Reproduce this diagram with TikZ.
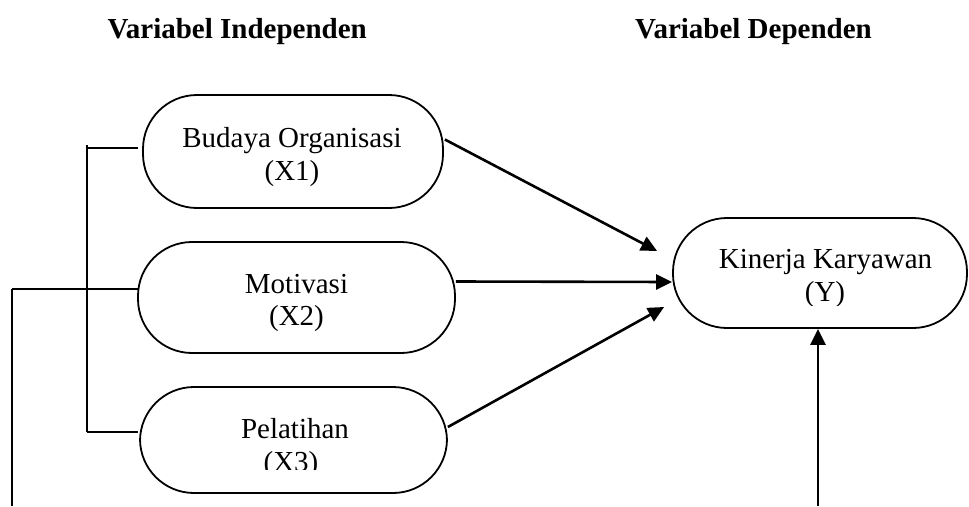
\documentclass[tikz,border=0pt]{standalone}
\usepackage{fontspec}
\setmainfont{Liberation Serif}
\usetikzlibrary{arrows.meta,calc}
\begin{document}
\begin{tikzpicture}[x=1pt,y=-1pt,
  varbox/.style={draw, line width=1.8pt, rounded corners=54pt, inner sep=0pt, minimum width=#1},
  lbl/.style={font=\fontsize{29}{33}\selectfont, anchor=base, inner sep=0pt},
  ttl/.style={font=\fontsize{29}{33}\selectfont\bfseries, anchor=base east, inner sep=0pt},
  brk/.style={line width=1.8pt},
  arr/.style={line width=2.6pt, -{Triangle[length=16pt,width=15pt]}}]
\useasboundingbox (0,0) rectangle (969,506);
% titles
\node[ttl] (ti) at (367,38) {Variabel Independen};
\node[ttl] (td) at (872,38) {Variabel Dependen};
% boxes
\node[varbox=300pt, minimum height=113pt] (x1) at (293,151.5) {};
\node[varbox=317pt, minimum height=111pt] (x2) at (296.5,297.5) {};
\node[varbox=307pt, minimum height=106pt] (x3) at (293.5,440) {};
\node[varbox=294pt, minimum height=110pt] (y) at (820,273) {};
% labels
\node[lbl] (x1a) at (292,147) {Budaya Organisasi};
\node[lbl] (x1b) at (292,180) {(X1)};
\node[lbl] (x2a) at (296.5,293) {Motivasi};
\node[lbl] (x2b) at (296.5,325) {(X2)};
\node[lbl] (x3a) at (295,438) {Pelatihan};
\begin{scope}
  \clip (240,445) rectangle (350,469);
  \node[lbl] (x3b) at (291,471) {(X3)};
\end{scope}
\node[lbl] (ya) at (825.5,268) {Kinerja Karyawan};
\begin{scope}
  \clip (780,275) rectangle (870,305);
  \node[lbl] (yb) at (825,301) {(Y)};
\end{scope}
% bracket
\coordinate (bt) at (87,145);
\coordinate (bb) at (87,432);
\coordinate (bm) at (87,289);
\coordinate (ol) at (12,289);
\coordinate (ob) at (12,506);
\coordinate (h1) at (138,148);
\coordinate (h2) at (138,289);
\coordinate (h3) at (138,432);
\draw[brk] (bt) -- (bb);
\draw[brk] (87,148) -- (h1);
\draw[brk] (ol) -- (h2);
\draw[brk] (bb) -- (h3);
\draw[brk] (ob) -- (ol);
% arrows
\draw[arr] ($(x1.east)+(1,-12)$) -- ($(y.west)+(-15,-22)$);
\draw[arr] ($(x2.east)+(0,-16)$) -- ($(y.west)+(0,9)$);
\draw[arr] ($(x3.east)+(0,-13)$) -- ($(y.west)+(-8,34)$);
\coordinate (yb0) at (818,506);
\draw[arr] (yb0) -- (yb0 |- y.south);
\end{tikzpicture}
\end{document}
